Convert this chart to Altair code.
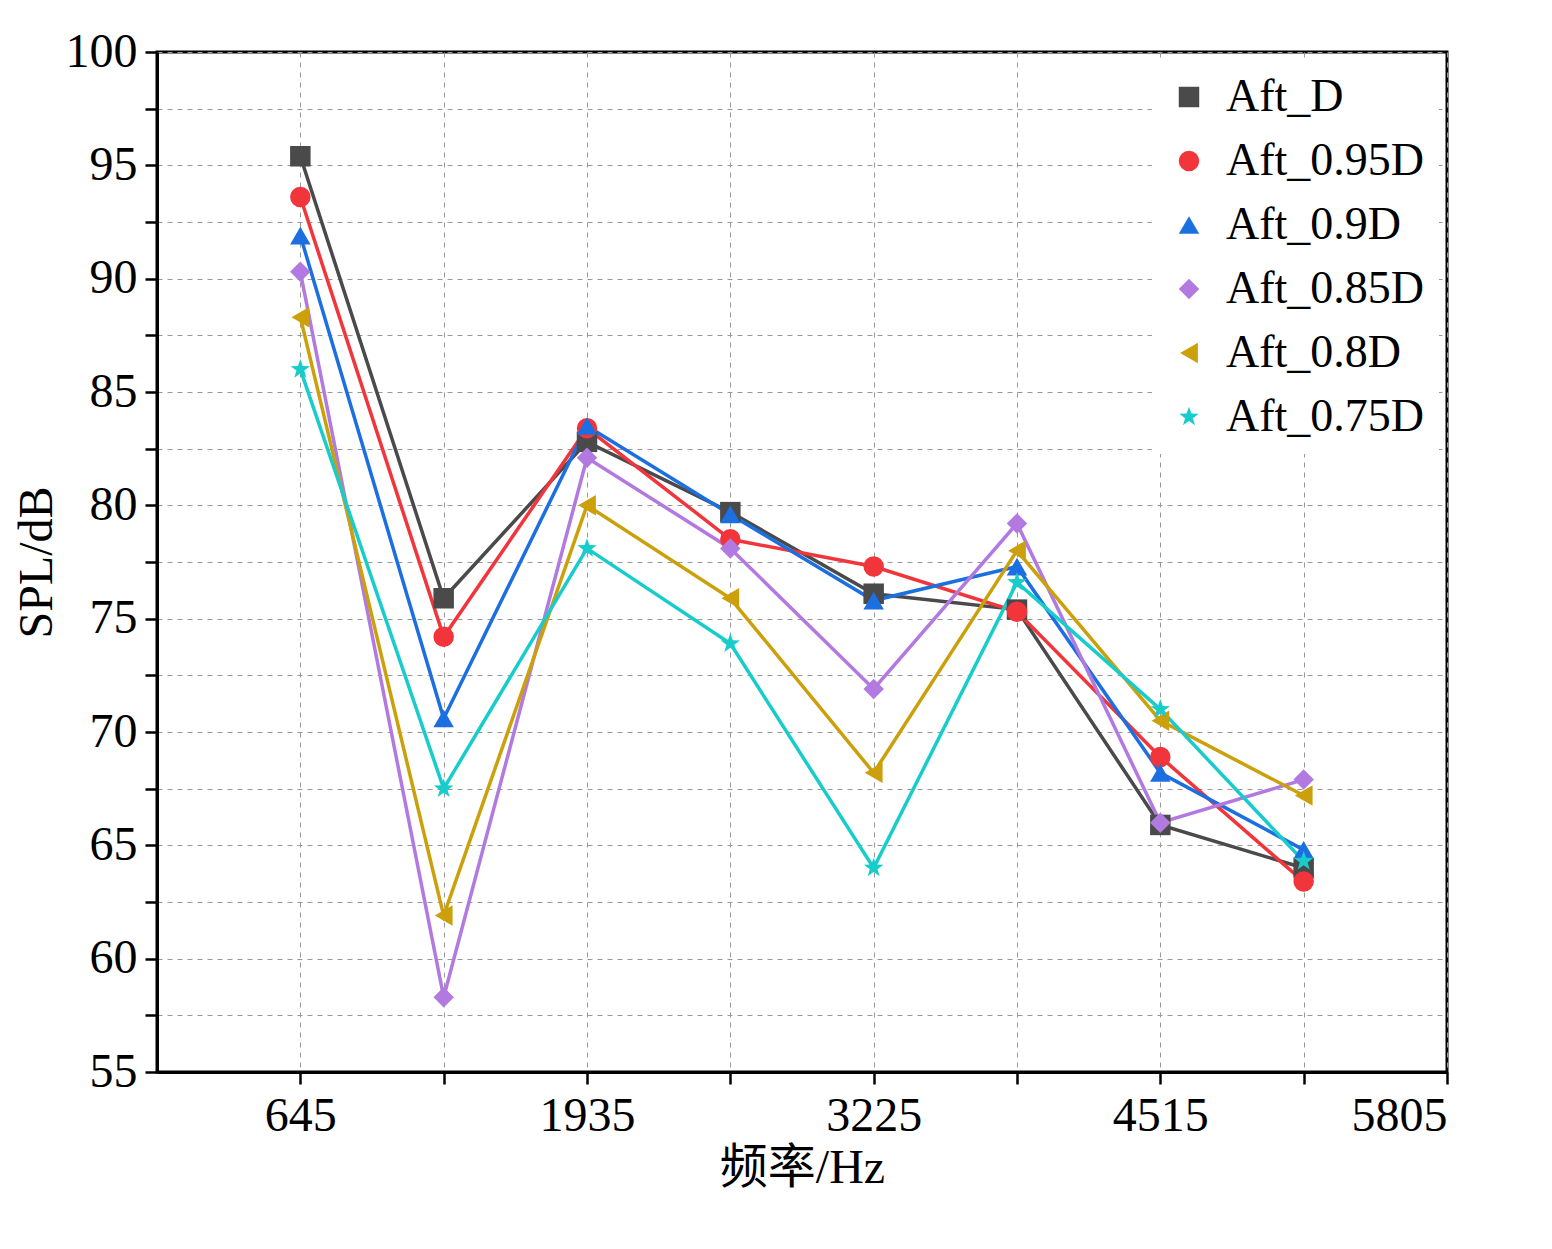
import altair as alt
import pandas as pd

FREQS = [645, 1290, 1935, 2580, 3225, 3870, 4515, 5160]
SERIES = ["Aft_D", "Aft_0.95D", "Aft_0.9D", "Aft_0.85D", "Aft_0.8D", "Aft_0.75D"]
AFT_D = [95.4, 75.9, 82.8, 79.7, 76.1, 75.4, 65.9, 64.0]
AFT_095 = [93.6, 74.2, 83.4, 78.5, 77.3, 75.3, 68.9, 63.4]
AFT_09 = [91.9, 70.6, 83.5, 79.6, 75.8, 77.3, 68.2, 64.8]
AFT_085 = [90.3, 58.3, 82.1, 78.1, 71.9, 79.2, 66.0, 67.9]
AFT_08 = [88.3, 61.9, 80.0, 75.9, 68.2, 78.0, 70.5, 67.2]
AFT_075 = [86.0, 67.5, 78.1, 73.9, 64.0, 76.6, 71.0, 64.3]
COLORS = ["#4a4a4a", "#f2353b", "#1c6fe0", "#b27ae0", "#cca00a", "#19cccc"]
STAR = "M0,-1L0.24,-0.33L0.95,-0.31L0.38,0.12L0.59,0.81L0,0.4L-0.59,0.81L-0.38,0.12L-0.95,-0.31L-0.24,-0.33Z"
SHAPES = ["square", "circle", "triangle-up", "diamond", "triangle-left", STAR]

rows = []
for name, vals in zip(SERIES, [AFT_D, AFT_095, AFT_09, AFT_085, AFT_08, AFT_075]):
    for f, v in zip(FREQS, vals):
        rows.append({"freq": f, "spl": v, "series": name})
df = pd.DataFrame(rows)

FONT = "Liberation Serif"
color = alt.Color("series:N", scale=alt.Scale(domain=SERIES, range=COLORS), title=None, sort=SERIES)
shape = alt.Shape("series:N", scale=alt.Scale(domain=SERIES, range=SHAPES), title=None, sort=SERIES)

x = alt.X("freq:Q", title="频率/Hz", scale=alt.Scale(domain=[0, 5805], nice=False),
          axis=alt.Axis(values=[645, 1290, 1935, 2580, 3225, 3870, 4515, 5160, 5805],
                        labelExpr="(datum.value - 645) % 1290 == 0 ? datum.label : ''",
                        format="d", gridDash=[5, 5], gridColor="#999", tickSize=12,
                        tickWidth=2.5, tickColor="black", labelPadding=8))
y = alt.Y("spl:Q", title="SPL/dB", scale=alt.Scale(domain=[55, 100], nice=False),
          axis=alt.Axis(values=[55 + 2.5 * i for i in range(19)],
                        labelExpr="datum.value % 5 == 0 ? datum.value : ''",
                        gridDash=[5, 5], gridColor="#999", tickSize=12,
                        tickWidth=2.5, tickColor="black", labelPadding=8))

base = alt.Chart(df).encode(x=x, y=y, color=color)
lines = base.mark_line(strokeWidth=3.5).encode(detail="series:N")
points = base.mark_point(filled=True, size=420, opacity=1).encode(shape=shape)

chart = (
    alt.layer(lines, points)
    .properties(width=1290, height=1020, padding={"top": 20, "left": 5, "right": 5, "bottom": 5})
    .configure_view(stroke="black", strokeWidth=3)
    .configure_axis(labelFont=FONT, titleFont=FONT + ", Noto Sans CJK SC", labelFontSize=48,
                    titleFontSize=48, titleFontWeight="normal", labelColor="black",
                    titleColor="black", domainColor="black", domainWidth=3)
    .configure_legend(orient="top-right", fillColor="white", labelFont=FONT, labelFontSize=46,
                      labelColor="black", symbolSize=420, symbolStrokeWidth=0,
                      rowPadding=18, padding=14, offset=8, labelOffset=14, labelLimit=400)
)
chart.save("out.html", embed_options={"renderer": "svg", "actions": False})
